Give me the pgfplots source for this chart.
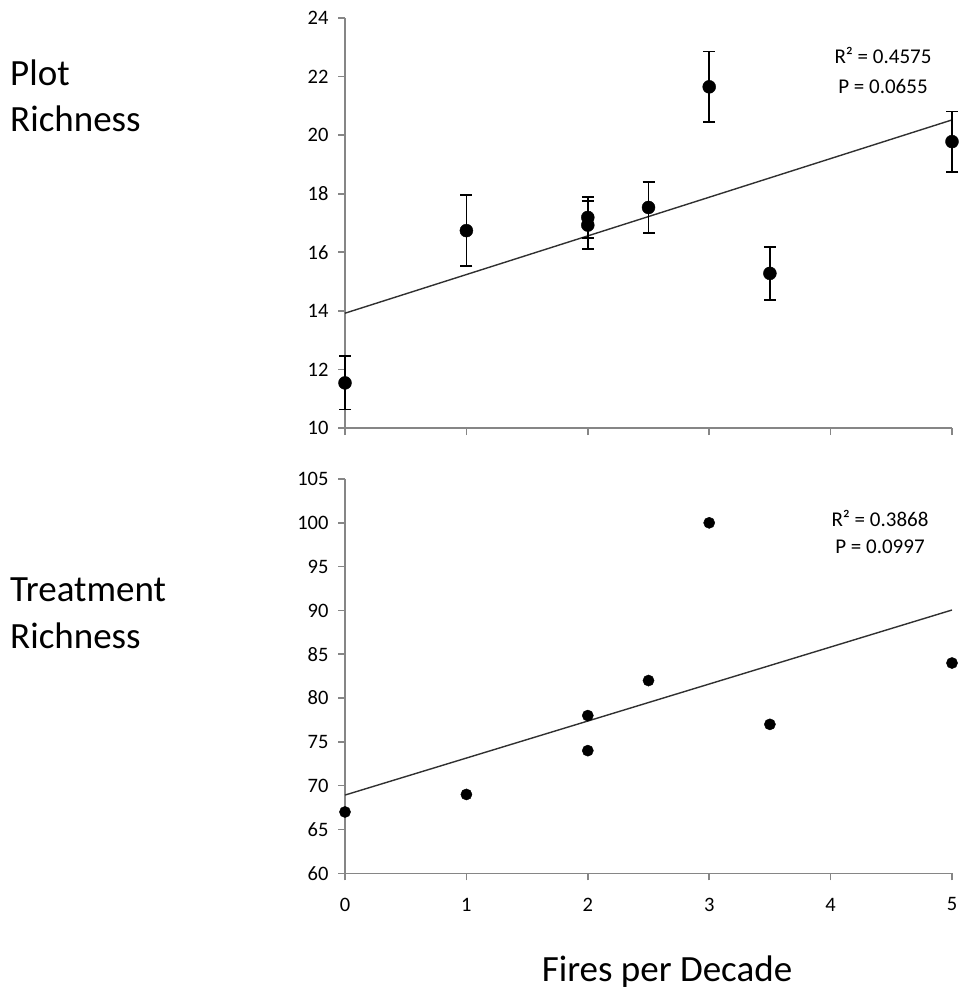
\documentclass[border=0pt]{standalone}
\usepackage{fontspec}
\setmainfont{Carlito}
\usepackage{pgfplots}
\pgfplotsset{compat=1.18}
\definecolor{axgray}{HTML}{868686}
\definecolor{trend}{HTML}{303030}
\pgfplotsset{
  common/.style={
    scale only axis,
    width=607pt,
    xmin=0, xmax=5,
    axis lines*=left,
    axis line style={axgray, line width=1.6pt},
    tick style={axgray, line width=1.6pt},
    major tick length=7pt,
    tick align=outside,
    tick pos=left,
    xtick={0,1,2,3,4,5},
    ticklabel style={font=\fontsize{20.5}{24}\selectfont, text=black},
    /pgf/number format/assume math mode=true,
    clip=false,
  },
}
\begin{document}
\begin{tikzpicture}
\path[use as bounding box] (0,0) rectangle (961pt,-991pt);
% top axis
\begin{axis}[common,
  at={(345pt,-428pt)}, anchor=south west,
  height=410pt,
  ymin=10, ymax=24, ytick={10,12,...,24},
  xticklabels={},
  yticklabel style={xshift=-6pt},
]
\addplot[trend, line width=1.4pt] coordinates {(0,13.92) (5,20.52)};
\addplot[black, only marks, mark=*, mark size=6.5pt,
  error bars/.cd, y dir=both, y explicit,
  error bar style={black, line width=1.6pt},
  error mark options={black, rotate=90, mark size=6pt, line width=1.6pt}]
  coordinates {
  (0,11.54) +- (0,0.91)
  (1,16.74) +- (0,1.21)
  (2,17.19) +- (0,0.70)
  (2,16.93) +- (0,0.82)
  (2.5,17.53) +- (0,0.88)
  (3,21.65) +- (0,1.21)
  (3.5,15.28) +- (0,0.91)
  (5,19.78) +- (0,1.03)
  };
\end{axis}
% bottom axis
\begin{axis}[common,
  at={(345pt,-873.3pt)}, anchor=south west,
  height=394.3pt,
  ymin=60, ymax=105, ytick={60,65,...,105},
  yticklabel style={xshift=-6pt},
  xticklabel style={yshift=-14pt},
]
\addplot[trend, line width=1.4pt] coordinates {(0,68.93) (5,90.05)};
\addplot[black, only marks, mark=*, mark size=5.6pt]
  coordinates {
  (0,67) (1,69) (2,78) (2,74) (2.5,82) (3,100) (3.5,77) (5,84)
  };
\end{axis}
% annotations
\node[font=\fontsize{21}{25}\selectfont] at (883pt,-55pt) {R² = 0.4575};
\node[font=\fontsize{21}{25}\selectfont] at (883pt,-86pt) {P = 0.0655};
\node[font=\fontsize{21}{25}\selectfont] at (880pt,-518pt) {R² = 0.3868};
\node[font=\fontsize{21}{25}\selectfont] at (880pt,-547pt) {P = 0.0997};
% left labels
\begin{scope}[every node/.style={anchor=base west, inner sep=0pt, font=\fontsize{37}{44}\selectfont}]
\node at (10pt,-85pt) {Plot};
\node at (10pt,-131.7pt) {Richness};
\node at (10pt,-601pt) {Treatment};
\node at (10pt,-648pt) {Richness};
\end{scope}
\node[anchor=base, inner sep=0pt, font=\fontsize{37}{44}\selectfont] at (667pt,-981.7pt) {Fires per Decade};
\end{tikzpicture}
\end{document}
